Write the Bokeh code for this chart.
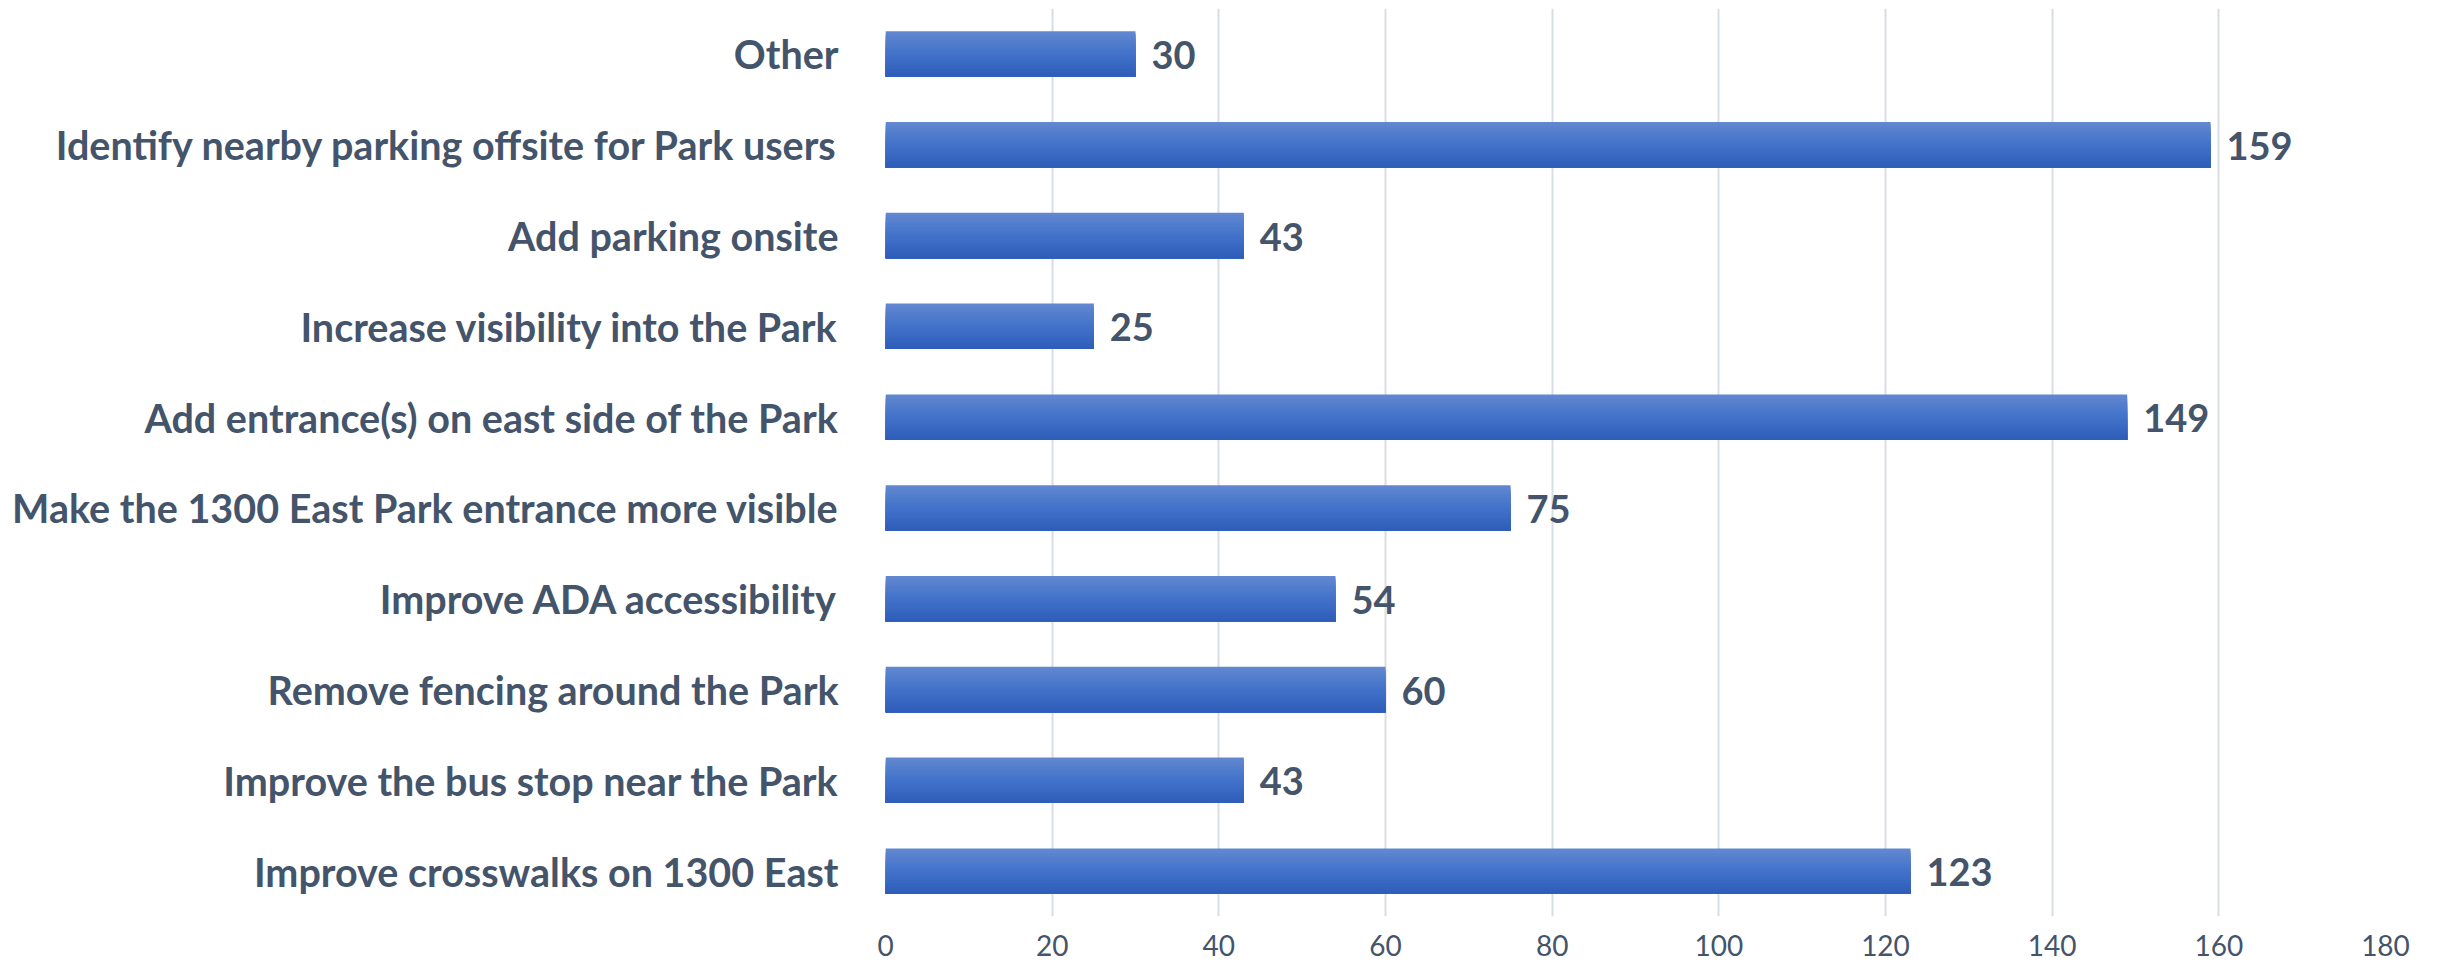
from bokeh.plotting import figure
from bokeh.models import ColumnDataSource, FactorRange, Range1d, FixedTicker
from bokeh.transform import dodge
from bokeh.embed import file_html
from bokeh.resources import INLINE
from bokeh.core.properties import value

categories = [
    "Other",
    "Identify nearby parking offsite for Park users",
    "Add parking onsite",
    "Increase visibility into the Park",
    "Add entrance(s) on east side of the Park",
    "Make the 1300 East Park entrance more visible",
    "Improve ADA accessibility",
    "Remove fencing around the Park",
    "Improve the bus stop near the Park",
    "Improve crosswalks on 1300 East",
]
counts = [30, 159, 43, 25, 149, 75, 54, 60, 43, 123]
x_ticks = [0, 20, 40, 60, 80, 100, 120, 140, 160, 180]

TEXT = "#44546A"
FONT = "Lato"

W, H = 2430, 964
left, right, top, bottom = 885, 45, 8, 48

p = figure(
    width=W, height=H,
    y_range=FactorRange(factors=list(reversed(categories)), range_padding=0),
    x_range=Range1d(0, 180),
    output_backend="svg", toolbar_location=None,
    min_border_left=left, min_border_right=right,
    min_border_top=top, min_border_bottom=bottom,
)
p.outline_line_color = None
p.background_fill_color = "white"
p.border_fill_color = "white"

src = ColumnDataSource(dict(cat=categories, val=counts, lbl=[str(v) for v in counts]))

# gradient bars: overlapping slices (each reaches the bar bottom), light at top, dark at bottom
def lerp(c1, c2, t):
    return "#%02x%02x%02x" % tuple(round(a + (b - a) * t) for a, b in zip(c1, c2))

c_top, c_mid, c_bot = (0x63, 0x88, 0xD0), (0x42, 0x72, 0xCA), (0x2D, 0x5D, 0xB8)
N = 20
bar_h = 0.5
step = bar_h / N
for i in range(N):
    t = (i + 0.5) / N
    col = lerp(c_top, c_mid, t * 2) if t < 0.5 else lerp(c_mid, c_bot, (t - 0.5) * 2)
    s_top = bar_h / 2 - i * step
    s_bot = -bar_h / 2
    p.hbar(y=dodge("cat", (s_top + s_bot) / 2, range=p.y_range), right="val", left=0,
           height=s_top - s_bot, source=src, fill_color=col, line_color=None)

p.text(x="val", y="cat", text="lbl", source=src, x_offset=16, y_offset=1,
       text_font=value(FONT), text_font_style="bold", text_font_size="38px",
       text_color=TEXT, text_baseline="middle", text_align="left")

# axes
p.xaxis.ticker = FixedTicker(ticks=x_ticks)
p.xaxis.axis_line_color = None
p.xaxis.major_tick_line_color = None
p.xaxis.minor_tick_line_color = None
p.xaxis.major_label_text_font = FONT
p.xaxis.major_label_text_font_size = "28px"
p.xaxis.major_label_text_color = TEXT
p.xaxis.major_label_standoff = 12

p.yaxis.axis_line_color = None
p.yaxis.major_tick_line_color = None
p.yaxis.minor_tick_line_color = None
p.yaxis.major_label_text_font = FONT
p.yaxis.major_label_text_font_style = "bold"
p.yaxis.major_label_text_font_size = "39.5px"
p.yaxis.major_label_text_color = TEXT
p.yaxis.major_label_standoff = 41

p.ygrid.grid_line_color = None
p.xgrid.grid_line_color = "#D9DDE5"
p.xgrid.grid_line_width = 2
p.xgrid.level = "underlay"

open("out.html", "w").write(file_html(p, INLINE))
